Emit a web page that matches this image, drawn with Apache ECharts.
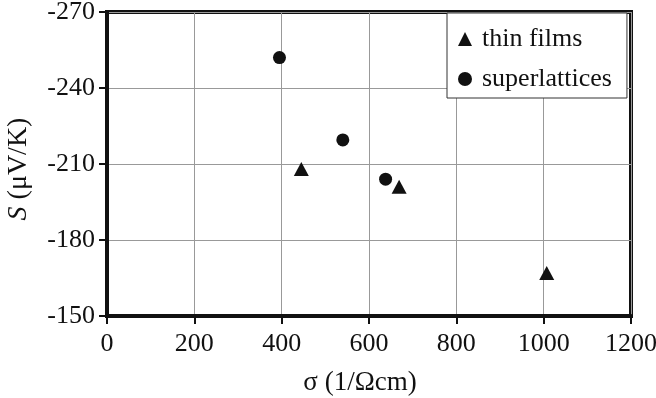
<!DOCTYPE html>
<html>
<head>
<meta charset="utf-8">
<script src="https://cdn.jsdelivr.net/npm/echarts@6/dist/echarts.min.js"></script>
<style>
  html, body { margin: 0; padding: 0; background: #fff; }
  #chart { width: 656px; height: 398px; }
</style>
</head>
<body>
<div id="chart"></div>
<script>
// Seebeck coefficient vs. electrical conductivity
const seriesNames = ['thin films', 'superlattices'];
const thinFilmsSigma = [445, 669, 1007];
const thinFilmsS = [-208, -201, -167];
const superlatticesSigma = [395, 540, 638];
const superlatticesS = [-252, -219.5, -204];
const xTicks = { min: 0, max: 1200, step: 200 };
const yTicks = { min: -270, max: -150, step: 30 };

const font = '"Liberation Serif", "Times New Roman", serif';
const ink = '#111';
const pairs = (xs, ys) => xs.map((x, i) => [x, ys[i]]);

const chart = echarts.init(document.getElementById('chart'), null, { renderer: 'canvas' });
chart.setOption({
  backgroundColor: '#fff',
  animation: false,
  grid: {
    left: 107, right: 25, top: 12, bottom: 82,
    containLabel: false,
    outerBoundsMode: 'none',
    show: true, borderColor: ink, borderWidth: 4, backgroundColor: 'transparent'
  },
  xAxis: {
    type: 'value',
    min: xTicks.min, max: xTicks.max, interval: xTicks.step,
    name: 'σ (1/Ωcm)',
    nameLocation: 'middle',
    nameGap: 53,
    nameTextStyle: { fontFamily: font, fontSize: 27, color: ink, padding: [0, 18, 0, 0] },
    axisLine: { show: true, lineStyle: { color: ink, width: 4 } },
    axisTick: { show: true, inside: false, length: 8, lineStyle: { color: ink, width: 2 } },
    axisLabel: {
      margin: 15, fontFamily: font, fontSize: 26, color: ink,
      formatter: v => String(v)
    },
    splitLine: { show: true, lineStyle: { color: '#999', width: 1 } }
  },
  yAxis: {
    type: 'value',
    inverse: true,
    min: yTicks.min, max: yTicks.max, interval: yTicks.step,
    name: '{i|S} (μV/K)',
    nameLocation: 'middle',
    nameGap: 74,
    nameRotate: 90,
    nameTextStyle: {
      fontFamily: font, fontSize: 28, color: ink, padding: [0, 10, 0, 0],
      rich: { i: { fontFamily: font, fontSize: 28, fontStyle: 'italic', color: ink } }
    },
    axisLine: { show: true, lineStyle: { color: ink, width: 4 } },
    axisTick: { show: true, inside: false, length: 8, lineStyle: { color: ink, width: 2 } },
    axisLabel: {
      margin: 12, fontFamily: font, fontSize: 26, color: ink,
      formatter: v => String(v)
    },
    splitLine: { show: true, lineStyle: { color: '#999', width: 1 } }
  },
  legend: {
    orient: 'vertical',
    left: 447, top: 13,
    backgroundColor: '#fff',
    borderColor: '#333', borderWidth: 1,
    padding: [12, 15, 5, 11],
    itemGap: 12,
    itemWidth: 14, itemHeight: 14,
    textStyle: { fontFamily: font, fontSize: 26, lineHeight: 28, color: ink, padding: [0, 0, 0, 5] },
    data: [
      { name: seriesNames[0], icon: 'triangle' },
      { name: seriesNames[1], icon: 'circle' }
    ]
  },
  series: [
    {
      name: seriesNames[0], type: 'scatter',
      symbol: 'triangle', symbolSize: [15, 14],
      itemStyle: { color: ink, opacity: 1 },
      data: pairs(thinFilmsSigma, thinFilmsS)
    },
    {
      name: seriesNames[1], type: 'scatter',
      symbol: 'circle', symbolSize: 13,
      itemStyle: { color: ink, opacity: 1 },
      data: pairs(superlatticesSigma, superlatticesS)
    }
  ]
});
</script>
</body>
</html>
